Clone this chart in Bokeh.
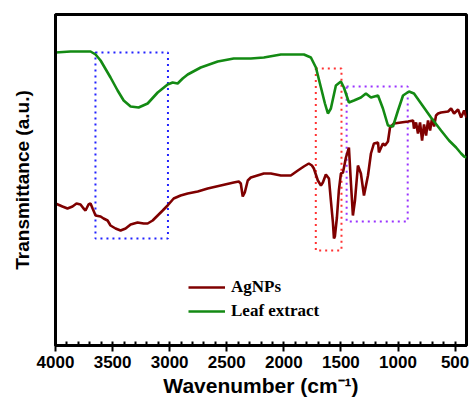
from bokeh.plotting import figure
from bokeh.models import Range1d, FixedTicker, Legend, LegendItem
from bokeh.embed import file_html
from bokeh.resources import INLINE

# ---- data (wavenumber cm^-1, transmittance a.u.) ----
leaf_wn = [4000, 3868, 3693, 3649, 3605, 3518, 3456, 3403, 3342, 3272, 3193, 3105, 3018,
           2974, 2930, 2886, 2842, 2728, 2579, 2439, 2289, 2175, 2026, 1824, 1763, 1719,
           1675, 1640, 1614, 1588, 1544, 1500, 1474, 1430, 1386, 1325, 1281, 1237, 1175,
           1132, 1088, 1044, 1000, 956, 904, 860, 798, 711, 623, 553, 491, 447, 421, 400]
leaf_t = [293, 294, 294, 291, 285, 268, 255, 245, 239, 238, 242, 253, 261,
          263, 262, 267, 271, 278, 284, 287, 287, 288, 291, 291, 288, 278,
          258, 242, 232, 237, 260, 264, 258, 243, 245, 248, 252, 248, 250,
          237, 220, 219, 235, 250, 254, 252, 242, 228, 215, 205, 198, 192, 189, 188]

ag_wn = [4000, 3939, 3895, 3851, 3816, 3781, 3754, 3737, 3711, 3693, 3675, 3649, 3605,
         3579, 3544, 3518, 3474, 3430, 3386, 3342, 3281, 3228, 3193, 3149, 3105, 3061,
         3018, 2965, 2904, 2842, 2754, 2667, 2553, 2439, 2395, 2377, 2360, 2342, 2316,
         2289, 2175, 2114, 2026, 1939, 1877, 1825, 1781, 1754, 1737, 1702, 1675, 1658,
         1632, 1605, 1588, 1570, 1561, 1553, 1535, 1518, 1500, 1482, 1456, 1430, 1412,
         1395, 1377, 1351, 1325, 1298, 1263, 1237, 1211, 1175, 1167, 1132, 1114, 1088,
         1070, 1035, 974, 912, 868, 860, 842, 825, 807, 789, 772, 754, 737, 719, 702,
         684, 667, 649, 623, 561, 535, 509, 474, 447, 421, 400]
ag_t = [142, 139, 137, 139, 142, 141, 137, 135, 141, 142, 137, 130, 129,
        127, 125, 120, 117, 115, 117, 121, 123, 122, 122, 125, 130, 135,
        140, 147, 150, 152, 154, 157, 160, 163, 164, 162, 149, 153, 165,
        168, 172, 172, 170, 170, 175, 179, 182, 180, 177, 165, 160, 163,
        171, 167, 145, 123, 107, 109, 128, 155, 172, 173, 188, 198, 162,
        130, 145, 180, 172, 150, 170, 192, 202, 203, 193, 202, 200, 204,
        218, 222, 223, 224, 225, 217, 223, 212, 223, 205, 221, 210, 225, 215, 227,
        219, 230, 232, 233, 234, 237, 232, 236, 228, 235, 228]

# highlighted regions: (high wn, low wn, top, bottom)
box_left = [3650, 1720, 1450]
box_right = [3015, 1495, 915]
box_top = [293, 277, 259]
box_bottom = [107, 95, 124]
box_colors = ["#2222FF", "#FF3333", "#9933FF"]

x_ticks = [4000, 3500, 3000, 2500, 2000, 1500, 1000, 500]

p = figure(frame_width=411, frame_height=331, output_backend="svg", toolbar_location=None,
           x_range=Range1d(4000, 400), y_range=Range1d(0, 331),
           min_border_left=55, min_border_right=4, min_border_top=14, min_border_bottom=58,
           background_fill_color="white", border_fill_color="white")
p.grid.visible = False
p.outline_line_color = "black"
p.outline_line_width = 3

for l, r, t, b, c in zip(box_left, box_right, box_top, box_bottom, box_colors):
    p.quad(left=[l], right=[r], top=[t], bottom=[b], fill_alpha=0, line_color=c,
           line_width=2, line_dash="2 4")

r_ag = p.line(ag_wn, ag_t, line_color="#7F0000", line_width=2.6)
r_leaf = p.line(leaf_wn, leaf_t, line_color="#138A13", line_width=2.6)

# x axis
xa = p.xaxis[0]
xa.ticker = FixedTicker(ticks=x_ticks, minor_ticks=list(range(4000, 399, -100)))
xa.axis_label = "Wavenumber (cm⁻¹)"
xa.axis_label_text_font = "Liberation Sans"
xa.axis_label_text_font_style = "bold"
xa.axis_label_text_font_size = "21px"
xa.axis_label_text_color = "black"
xa.axis_label_standoff = 3
xa.major_label_text_font = "Liberation Sans"
xa.major_label_text_font_style = "bold"
xa.major_label_text_font_size = "17px"
xa.major_label_text_color = "black"
xa.major_label_standoff = 4
xa.axis_line_width = 3
xa.major_tick_line_width = 2
xa.major_tick_out = 6
xa.major_tick_in = 0
xa.minor_tick_in = 4
xa.minor_tick_out = 0
xa.minor_tick_line_width = 2

# y axis
ya = p.yaxis[0]
ya.ticker = FixedTicker(ticks=[])
ya.axis_label = "Transmittance (a.u.)"
ya.axis_label_text_font = "Liberation Sans"
ya.axis_label_text_font_style = "bold"
ya.axis_label_text_font_size = "19px"
ya.axis_label_text_color = "black"
ya.axis_label_standoff = 23
ya.axis_line_width = 3
ya.major_tick_line_color = None
ya.minor_tick_line_color = None
ya.major_label_text_font_size = "0px"

legend = Legend(items=[LegendItem(label="AgNPs", renderers=[r_ag]),
                       LegendItem(label="Leaf extract", renderers=[r_leaf])],
                location=(133, 22), border_line_color=None, background_fill_alpha=0,
                padding=0, margin=0, spacing=0, glyph_width=37, glyph_height=24,
                label_height=24, label_standoff=6,
                label_text_font="Liberation Serif", label_text_font_style="bold",
                label_text_font_size="17px", label_text_color="black")
p.add_layout(legend, "center")

open("out.html", "w").write(file_html(p, INLINE))
